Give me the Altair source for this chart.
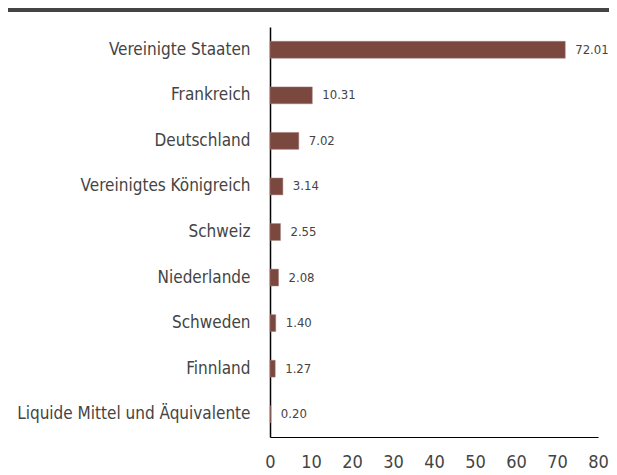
import altair as alt
import pandas as pd

countries = ["Vereinigte Staaten", "Frankreich", "Deutschland", "Vereinigtes Königreich",
             "Schweiz", "Niederlande", "Schweden", "Finnland", "Liquide Mittel und Äquivalente"]
values = [72.01, 10.31, 7.02, 3.14, 2.55, 2.08, 1.40, 1.27, 0.20]
labels = ["72.01", "10.31", "7.02", "3.14", "2.55", "2.08", "1.40", "1.27", "0.20"]
x_ticks = [0, 10, 20, 30, 40, 50, 60, 70, 80]

df = pd.DataFrame({"land": countries, "wert": values, "label": labels})

FONT = "'DejaVu Sans Condensed', sans-serif"

y_enc = alt.Y("land:N", sort=countries, title=None,
              scale=alt.Scale(paddingInner=0.63, paddingOuter=0.315),
              axis=alt.Axis(labelFontSize=17, labelColor="#444444", labelFont=FONT,
                            labelPadding=20, ticks=False, domainColor="#000000",
                            domainWidth=1.5, labelLimit=300))
x_enc = alt.X("wert:Q", title=None,
              scale=alt.Scale(domain=[0, 80], nice=False),
              axis=alt.Axis(values=x_ticks, labelFontSize=18, labelColor="#444444",
                            labelFont=FONT, labelPadding=16, ticks=False, grid=False,
                            domainColor="#000000", domainWidth=1.2, labelFlush=False))

bars = alt.Chart(df).mark_bar(color="#7b4840", stroke="#a07a74", strokeWidth=0.5).encode(
    x=x_enc, y=y_enc)

text = alt.Chart(df).mark_text(align="left", baseline="middle", dx=10, fontSize=13,
                               font=FONT, color="#444444").encode(
    x="wert:Q", y=alt.Y("land:N", sort=countries), text="label:N")

top_rule = alt.Chart(df).mark_rule(color="#444444", strokeWidth=4).encode(
    x=alt.value(-268), x2=alt.value(360), y=alt.value(-17))

chart = alt.layer(top_rule, bars, text).properties(
    width=328, height=410,
    background="#ffffff",
    autosize=alt.AutoSizeParams(type="none"),
    padding={"left": 262, "top": 19, "right": 11, "bottom": 38},
).configure_view(stroke=None)

chart.save("out.html", embed_options={"renderer": "svg", "actions": False})
